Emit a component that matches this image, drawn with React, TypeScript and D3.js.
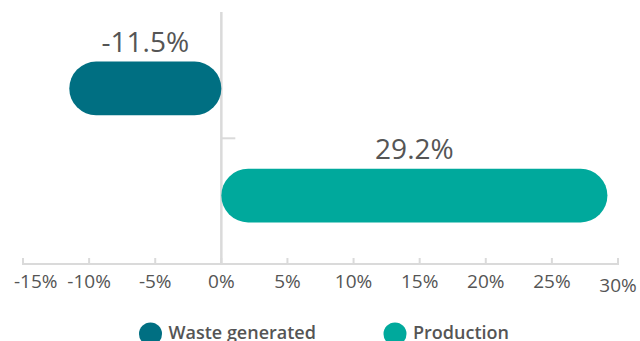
import React from "react";
import * as d3 from "d3";

const series = ["Waste generated", "Production"];
const values = [-11.5, 29.2];
const colors = ["#006F82", "#00A99C"];
const ticks = [-15, -10, -5, 0, 5, 10, 15, 20, 25, 30];

const W = 640;
const H = 341;
const FONT = "'Open Sans', 'Noto Sans', sans-serif";

export default function App() {
  const x = d3.scaleLinear().domain([-15, 30]).range([23, 618]);
  const y = d3
    .scaleBand<string>()
    .domain(series)
    .range([20, 264])
    .paddingInner(0.5)
    .paddingOuter(0.388);
  const axisY = 264;
  const bw = y.bandwidth();
  const fmt = (v: number) => `${v}%`;
  const legendX = [150.5, 395];

  return (
    <svg
      width={W}
      height={H}
      style={{ position: "absolute", left: 0, top: 0, background: "#fff" }}
      fontFamily={FONT}
    >
      {/* zero line */}
      <line x1={x(0)} x2={x(0)} y1={12} y2={axisY} stroke="#DADADA" strokeWidth={2.5} />
      <line x1={x(0)} x2={x(0) + 14} y1={138.3} y2={138.3} stroke="#DADADA" strokeWidth={2} />
      {/* x axis */}
      <line x1={x(-15) - 1} x2={x(30) + 1} y1={axisY} y2={axisY} stroke="#DADADA" strokeWidth={2} />
      {ticks.map((t) => (
        <line key={"t" + t} x1={x(t)} x2={x(t)} y1={axisY} y2={axisY - 6} stroke="#DADADA" strokeWidth={2} />
      ))}
      {ticks.map((t, i) => {
        const first = i === 0;
        const last = i === ticks.length - 1;
        return (
          <text
            key={"l" + t}
            x={first ? x(t) - 9 : x(t)}
            y={last ? 292.3 : 288.4}
            textAnchor={first ? "start" : "middle"}
            fontSize={19}
            fill="#555"
          >
            {fmt(t)}
          </text>
        );
      })}
      {/* bars */}
      {series.map((s, i) => {
        const v = values[i];
        const x0 = x(Math.min(0, v));
        const x1 = x(Math.max(0, v));
        const yy = y(s)!;
        return (
          <g key={s}>
            <rect x={x0} y={yy} width={x1 - x0} height={bw} rx={bw / 2} ry={bw / 2} fill={colors[i]} />
            <text
              x={(x0 + x1) / 2}
              y={yy - 10}
              textAnchor="middle"
              fontSize={28}
              fill="#555"
            >
              {fmt(v)}
            </text>
          </g>
        );
      })}
      {/* legend */}
      {series.map((s, i) => (
        <g key={"lg" + s}>
          <circle cx={legendX[i]} cy={334} r={11.5} fill={colors[i]} />
          <text x={legendX[i] + 18} y={339} fontSize={18} fontWeight={600} fill="#555">
            {s}
          </text>
        </g>
      ))}
    </svg>
  );
}
